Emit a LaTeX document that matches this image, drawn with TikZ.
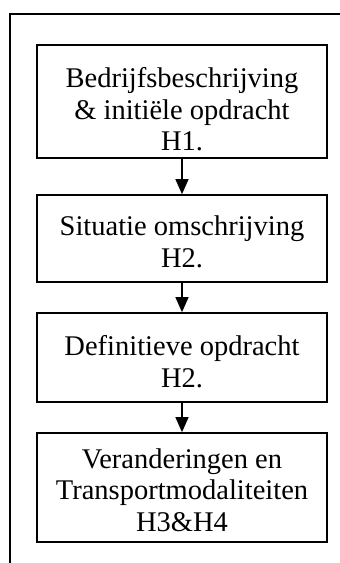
\documentclass[tikz,border=0pt]{standalone}
\usepackage{fontspec}
\setmainfont{Liberation Serif}
\usetikzlibrary{arrows.meta}
\begin{document}
\begin{tikzpicture}[x=1pt,y=-1pt,
  stepbox/.style={draw,line width=1.7pt,minimum width=290pt,inner sep=0pt},
  steptext/.style={align=center,inner sep=0pt,font=\fontsize{28.5}{31.5}\selectfont},
  flow/.style={line width=1.3pt,-{Triangle[width=13pt,length=15pt]}},
  frameline/.style={line width=1.7pt}]
\useasboundingbox (0,0) rectangle (340,563);
% outer frame
\coordinate (ftr) at (340,14);
\coordinate (ftl) at (10,14);
\coordinate (fbl) at (10,563);
\draw[frameline] (ftr) -- (ftl) -- (fbl);
% boxes
\node[stepbox,minimum height=113pt] (b1) at (182,101.5) {};
\node[stepbox,minimum height=87pt] (b2) at (182,238.5) {};
\node[stepbox,minimum height=89pt] (b3) at (182,357.5) {};
\node[stepbox,minimum height=109pt] (b4) at (182,487.5) {};
% texts
\node[steptext] (t1) at (182,109.5) {Bedrijfsbeschrijving\\ \& initiële opdracht\\ H1.};
\node[steptext] (t2) at (182,242) {Situatie omschrijving\\ H2.};
\node[steptext] (t3) at (182,361.5) {Definitieve opdracht\\ H2.};
\node[steptext] (t4) at (182,490) {Veranderingen en\\ Transportmodaliteiten\\ H3\&H4};
% arrows
\draw[flow] (b1.south) -- (b2.north);
\draw[flow] (b2.south) -- (b3.north);
\draw[flow] (b3.south) -- (b4.north);
\end{tikzpicture}
\end{document}
